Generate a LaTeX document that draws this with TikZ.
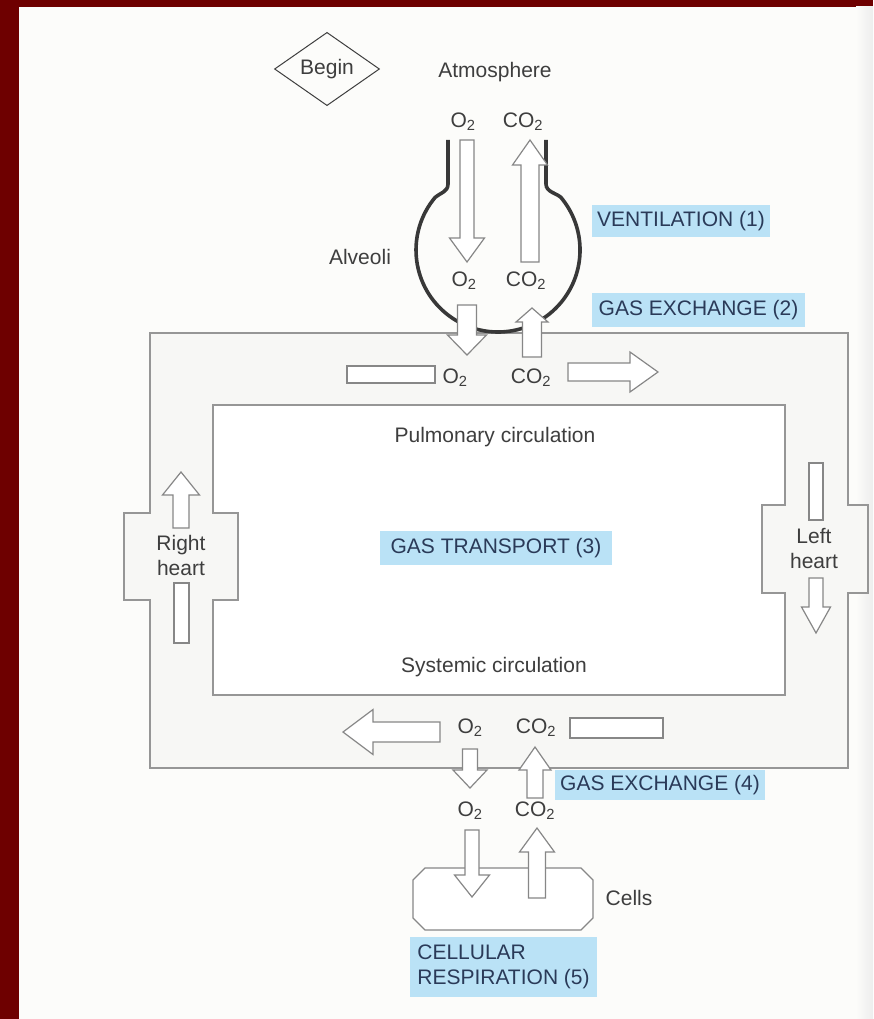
\documentclass[tikz,border=0pt]{standalone}
\usepackage{fontspec}
\setmainfont{Liberation Sans}
\usetikzlibrary{shapes.geometric, positioning}
\definecolor{txtgray}{RGB}{62,62,62}
\definecolor{linegray}{RGB}{135,135,135}
\definecolor{loopgray}{RGB}{150,150,150}
\definecolor{hiblue}{RGB}{186,226,246}
\definecolor{hitext}{RGB}{42,58,88}
\definecolor{paper}{RGB}{252,252,250}
\definecolor{bandgray}{RGB}{247,247,245}
\definecolor{frame}{RGB}{110,0,0}
\tikzset{
    gasarrow/.style={draw=linegray, fill=white, line width=1.2pt, line join=miter},
    loopline/.style={draw=loopgray, line width=1.4pt},
    flask/.style={draw=black!78, line width=3.6pt},
    lbl/.style={text=txtgray, inner sep=0pt, font=\fontsize{21}{25}\selectfont},
    hilite/.style={fill=hiblue, text=hitext, inner sep=0pt, font=\fontsize{21}{25}\selectfont}
}
% tail, angle, length, shaft half width, head half width, head length
\newcommand{\gasarrow}[6]{%
    \draw[gasarrow, shift={(#1)}, rotate=#2] (0,-#4) -- (#3-#6,-#4) -- (#3-#6,-#5) -- (#3,0) -- (#3-#6,#5) -- (#3-#6,#4) -- (0,#4) -- cycle;
}

\begin{document}
\begin{tikzpicture}[x=1pt, y=1pt]
    \useasboundingbox (0,0) rectangle (873,-1019);
    \fill[frame] (0,0) rectangle (873,-1019);
    \fill[paper] (19,-7) rectangle (873,-1019);
    \shade[left color=paper, right color=black!7] (856,-7) rectangle (873,-1019);

    % circulation loop
    \def\outerloop{(150,-333) -- (848,-333) -- (848,-505) -- (868,-505) -- (868,-593) -- (848,-593) -- (848,-768) -- (150,-768) -- (150,-600) -- (124,-600) -- (124,-513) -- (150,-513) -- cycle}
    \def\innerloop{(213,-405) -- (785,-405) -- (785,-505) -- (762,-505) -- (762,-593) -- (785,-593) -- (785,-695) -- (213,-695) -- (213,-600) -- (238,-600) -- (238,-513) -- (213,-513) -- cycle}
    \fill[bandgray] \outerloop;
    \fill[white] \innerloop;
    \draw[loopline] \outerloop;
    \draw[loopline] \innerloop;

    % alveoli
    \draw[flask] (448,-140) -- (448,-184) .. controls (448,-192) and (440,-193) .. (435.2,-197.3)
        arc[start angle=140, end angle=400, radius=82]
        .. controls (556,-193) and (546,-192) .. (546,-184) -- (546,-140);

    % cells
    \draw[gasarrow] (425,-868) -- (581,-868) -- (593,-880) -- (593,-918) -- (581,-930) -- (425,-930) -- (413,-918) -- (413,-880) -- cycle;

    % ventilation
    \gasarrow{467,-140}{-90}{122}{7}{17.5}{24}
    \gasarrow{530,-262}{90}{122}{9}{17.5}{25}
    % gas exchange (2)
    \gasarrow{467,-305}{-90}{50}{9.5}{19.5}{20}
    \gasarrow{532,-357}{90}{49}{9.5}{16}{14}
    % pulmonary circulation
    \draw[gasarrow] (347,-366) rectangle (435,-383);
    \gasarrow{568,-372}{0}{90}{9}{20}{28}
    % right heart
    \gasarrow{181,-528}{90}{56}{8}{18.5}{23}
    \draw[gasarrow] (174,-583) rectangle (189,-643);
    % left heart
    \draw[gasarrow] (809,-463) rectangle (823,-520);
    \gasarrow{816,-578}{-90}{55}{7}{14.5}{26}
    % systemic circulation
    \gasarrow{440,-732}{180}{97}{10}{22.5}{30}
    \draw[gasarrow] (570,-718) rectangle (663,-738);
    % gas exchange (4)
    \gasarrow{470,-749}{-90}{39}{7.5}{17}{18}
    \gasarrow{535,-798}{90}{51}{8}{16}{23}
    % cellular respiration
    \gasarrow{472,-830}{-90}{67}{7}{17.5}{22}
    \gasarrow{537,-898}{90}{70}{8.5}{17.5}{24}

    % labels
    \node[lbl, draw=txtgray, line width=1pt, diamond, minimum width=105, minimum height=63] (begin) at (327,-69) {Begin};
    \node[lbl] (atmos) at (495,-72) {Atmosphere};
    \node[lbl] (o2atm) at (463,-122) {O\textsubscript{2}};
    \node[lbl] (co2atm) at (523,-122) {CO\textsubscript{2}};
    \node[lbl] (alveoli) at (360,-257) {Alveoli};
    \node[lbl] (o2alv) at (464,-281) {O\textsubscript{2}};
    \node[lbl] (co2alv) at (526,-281) {CO\textsubscript{2}};
    \node[lbl] (o2pul) at (455,-378) {O\textsubscript{2}};
    \node[lbl] (co2pul) at (531,-378) {CO\textsubscript{2}};
    \node[lbl] (pulmonary) at (495,-437) {Pulmonary circulation};
    \node[lbl, align=center] (rheart) at (181,-555) {Right\\heart};
    \node[lbl, align=center] (lheart) at (814,-548) {Left\\heart};
    \node[lbl] (systemic) at (494,-667) {Systemic circulation};
    \node[lbl] (o2sys) at (470,-728) {O\textsubscript{2}};
    \node[lbl] (co2sys) at (536,-728) {CO\textsubscript{2}};
    \node[lbl] (o2cell) at (470,-811) {O\textsubscript{2}};
    \node[lbl] (co2cell) at (535,-811) {CO\textsubscript{2}};
    \node[lbl] (cells) at (629,-898) {Cells};

    \node[hilite, minimum width=178, minimum height=32] (ventilation) at (681,-221) {VENTILATION (1)};
    \node[hilite, minimum width=213, minimum height=34] (exchange2) at (698.5,-310) {GAS EXCHANGE (2)};
    \node[hilite, minimum width=232, minimum height=34] (transport) at (496,-548) {GAS TRANSPORT (3)};
    \node[hilite, minimum width=210, minimum height=30] (exchange4) at (660,-785) {GAS EXCHANGE (4)};
    \node[hilite, align=left, minimum width=187, minimum height=60] (respiration) at (503.5,-967) {CELLULAR\\RESPIRATION (5)};
\end{tikzpicture}
\end{document}
